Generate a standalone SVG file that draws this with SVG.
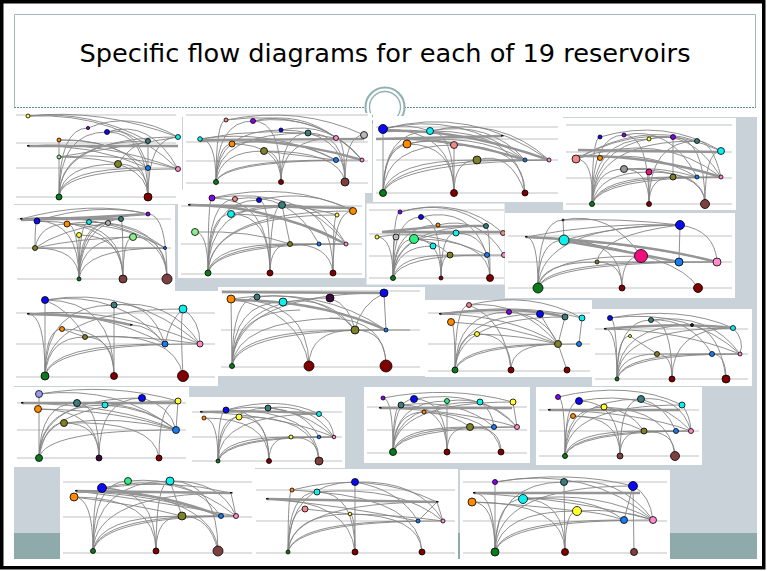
<svg xmlns="http://www.w3.org/2000/svg" width="767" height="571" viewBox="0 0 767 571">
<style>
.bx{fill:#fff}
.gd{stroke:#d6d6d6;stroke-width:1.5}
.e{fill:none;stroke:#838383;stroke-width:.9}
.t{fill:none;stroke:#959595;stroke-width:2.4}
.n circle{stroke:#000;stroke-width:.8}
.n rect{fill:#111}
.G{fill:#0b7a1b}.R{fill:#800000}.W{fill:#7d4040}.B{fill:#0a0aee}.C{fill:#11eeee}
.O{fill:#ff8a00}.T{fill:#3d7d7d}.L{fill:#80802a}.P{fill:#ff8ccc}.S{fill:#f08a8a}
.U{fill:#8a00ee}.Y{fill:#ffff30}.Q{fill:#8cef8c}.K{fill:#1a7cf0}.M{fill:#ee1080}
.A{fill:#b8b8b8}.H{fill:#999}.N{fill:#30ee80}.V{fill:#9a9aee}.D{fill:#3a0a3a}.X{fill:#222}
</style>

<!-- slide background -->
<rect x="0" y="0" width="767" height="571" fill="#fff"/>
<rect x="14" y="117" width="743" height="416" fill="#c8d2d8"/>
<rect x="14" y="533" width="743" height="26" fill="#8eaaaa"/>

<!-- title band -->
<path d="M14.5,107 V14.5 H755.5 V107" fill="none" stroke="#9fb8b8" stroke-width="1"/>
<path d="M14,107.5 H366 M404,107.5 H756" fill="none" stroke="#5f8c8c" stroke-width="1" stroke-dasharray="2 1"/>
<circle cx="385" cy="107" r="19.5" fill="#fff" stroke="#8fb0b0" stroke-width="2"/>
<circle cx="385" cy="107" r="15.5" fill="none" stroke="#8fb0b0" stroke-width="1.3"/>
<text x="385" y="62" text-anchor="middle" font-family="DejaVu Sans, sans-serif" font-size="25" textLength="611" lengthAdjust="spacingAndGlyphs" fill="#000">Specific flow diagrams for each of 19 reservoirs</text>

<!-- reservoir 1 -->
<g id="r01">
<rect class="bx" x="14" y="112" width="168" height="92"/>
<path class="gd" d="M16,115H176M16,143H176M16,168H176M16,197H176"/>
<g class="edges">
<path class="e" d="M59,197Q59,132 107,132M59,197Q59,141 148,141M59,197Q59,137 178,137M59,197Q62,164 118,164M59,197Q60,168 148,168M59,197Q60,169 178,169M59,197Q59,128 88,128M59,197L59,140M148,197Q148,132 107,132M148,197Q148,140 59,140M148,197Q148,157 59,157M148,197Q148,164 118,164M148,197Q148,137 178,137M148,197L148,141M28,116Q100,108 178,137M28,116Q90,110 148,141M28,116Q120,112 178,169M88,128Q130,110 178,137M107,132Q150,118 178,169M107,132Q135,125 148,168M28,146Q100,140 178,169M28,146Q90,143 148,168M59,157Q120,152 178,169M59,140Q110,138 148,168M118,164Q130,145 148,141M59,157Q100,150 178,137"/>
<path class="t" d="M28,146L178,146"/>
</g>
<g class="n">
<rect x="27" y="145" width="2.5" height="1.5"/>
<circle class="Y" cx="28" cy="116" r="2"/><circle class="U" cx="88" cy="128" r="1.6"/><circle class="B" cx="107" cy="132" r="2.5"/>
<circle class="O" cx="59" cy="140" r="2"/><circle class="T" cx="148" cy="141" r="2.5"/><circle class="C" cx="178" cy="137" r="2.5"/>
<circle class="Q" cx="59" cy="157" r="2"/><circle class="L" cx="118" cy="164" r="3.5"/><circle class="K" cx="148" cy="168" r="2.5"/>
<circle class="P" cx="178" cy="169" r="2.5"/><circle class="G" cx="59" cy="197" r="3"/><circle class="R" cx="148" cy="197" r="4"/>
</g>
</g>

<!-- reservoir 2 -->
<g id="r02">
<rect class="bx" x="183" y="113" width="189" height="80"/>
<path class="gd" d="M186,115H368M186,142H368M186,161H368M186,183H368"/>
<g class="edges">
<path class="e" d="M216,182Q216,120 226,120M216,182Q216,121 253,121M216,182Q216,130 281,130M216,182Q216,133 308,133M216,182Q218,144 232,144M216,182Q220,151 264,151M216,182Q222,160 336,160M216,182Q224,160 362,160M216,182Q216,139 200,139M281,182Q281,121 253,121M281,182Q281,133 308,133M281,182Q281,144 232,144M281,182Q281,151 264,151M281,182Q281,138 336,138M345,182Q345,133 308,133M345,182Q345,130 281,130M345,182Q345,135 364,135M345,182Q345,138 336,138M345,182Q340,151 264,151M226,120Q300,105 364,135M226,120Q320,108 362,160M200,139Q270,128 336,160M200,139Q270,125 336,138M253,121Q320,112 362,160M232,144Q290,135 336,160M264,151L336,160M253,121Q300,110 336,138M281,130Q330,120 362,160"/>
<path class="t" d="M200,140L364,139M200,141Q280,136 362,160"/>
</g>
<g class="n">
<circle class="S" cx="226" cy="120" r="2"/><circle class="U" cx="253" cy="121" r="2.5"/><circle class="B" cx="281" cy="130" r="2"/>
<circle class="T" cx="308" cy="133" r="3"/><circle class="P" cx="336" cy="138" r="2.5"/><circle class="A" cx="364" cy="135" r="3.5"/>
<circle class="C" cx="200" cy="139" r="2.3"/><circle class="O" cx="232" cy="144" r="3"/><circle class="L" cx="264" cy="151" r="3.5"/>
<circle class="K" cx="336" cy="160" r="2.5"/><circle class="P" cx="362" cy="160" r="2"/><circle class="G" cx="216" cy="182" r="2.5"/>
<circle class="R" cx="281" cy="182" r="2.5"/><circle class="W" cx="345" cy="182" r="4"/>
</g>
</g>

<!-- reservoir 3 -->
<g id="r03">
<rect class="bx" x="373" y="116" width="190" height="86"/>
<path class="gd" d="M376,127H558M376,139H558M376,160H558M376,193H558"/>
<g class="edges">
<path class="e" d="M383,193L383,129M383,193Q383,131 430,131M383,193Q385,144 407,144M383,193Q385,145 454,145M383,193Q390,160 477,160M383,193Q395,160 525,160M383,193Q395,163 549,160M454,193L454,145M454,193Q454,131 430,131M454,193Q454,144 407,144M454,193Q454,160 477,160M454,193Q454,129 383,129M525,193Q510,150 477,160M525,193Q525,145 454,145M383,129Q460,110 525,160M383,129Q470,105 549,160M430,131Q500,115 549,160M430,131Q490,120 525,160M407,144Q470,130 525,160M383,129Q405,122 430,131M407,144Q430,138 454,145M477,160L549,160M383,193Q383,150 407,144M525,193Q520,130 430,131"/>
<path class="t" d="M376,139Q450,136 525,160M376,139L502,136M383,131Q460,128 549,160"/>
</g>
<g class="n">
<rect x="501" y="135" width="2.5" height="1.5"/>
<circle class="B" cx="383" cy="129" r="4.5"/><circle class="C" cx="430" cy="131" r="3.5"/><circle class="O" cx="407" cy="144" r="4"/>
<circle class="S" cx="454" cy="145" r="3.5"/><circle class="L" cx="477" cy="160" r="4"/><circle class="K" cx="525" cy="160" r="2"/>
<circle class="P" cx="549" cy="160" r="2"/><circle class="G" cx="383" cy="193" r="3.5"/><circle class="R" cx="454" cy="193" r="3.5"/>
<circle class="R" cx="525" cy="193" r="3"/>
</g>
</g>

<!-- reservoir 4 -->
<g id="r04">
<rect class="bx" x="563" y="118" width="173" height="92"/>
<path class="gd" d="M566,125H732M566,152H732M566,178H732M566,204H732"/>
<g class="edges">
<path class="e" d="M592,204Q592,137 600,137M592,204Q592,135 624,135M592,204Q592,139 649,139M592,204Q594,137 673,137M592,204Q594,141 697,141M592,204Q594,159 576,159M592,204Q595,169 624,169M592,204Q598,172 649,172M592,204Q600,177 673,177M592,204Q600,177 697,177M592,204Q600,178 721,177M649,204L649,172M649,204Q649,135 624,135M649,204Q649,141 697,141M649,204Q649,169 624,169M649,204Q649,177 673,177M705,204Q705,151 721,151M705,204Q705,137 673,137M705,204Q705,172 649,172M705,204Q705,169 624,169M576,159Q650,118 721,151M576,159Q640,122 697,141M576,159Q660,130 721,177M600,137Q665,118 721,151M624,135Q670,125 697,177M649,139Q690,128 721,177M697,141Q712,140 721,177M673,137L673,177M624,169Q660,166 697,177M673,177L721,177M600,158Q650,150 697,177"/>
<path class="t" d="M578,150L720,152M578,156Q650,155 721,177"/>
</g>
<g class="n">
<circle class="B" cx="600" cy="137" r="2"/><circle class="U" cx="624" cy="135" r="2"/><circle class="Y" cx="649" cy="139" r="2"/>
<circle class="U" cx="673" cy="137" r="2.5"/><circle class="T" cx="697" cy="141" r="2.5"/><circle class="C" cx="721" cy="151" r="3.5"/>
<circle class="S" cx="576" cy="159" r="4"/><circle class="O" cx="600" cy="158" r="2.5"/><circle class="H" cx="624" cy="169" r="3.5"/>
<circle class="M" cx="649" cy="172" r="3"/><circle class="L" cx="673" cy="177" r="3"/><circle class="K" cx="697" cy="177" r="2"/>
<circle class="P" cx="721" cy="177" r="2"/><circle class="G" cx="592" cy="204" r="2.5"/><circle class="R" cx="649" cy="204" r="2.5"/>
<circle class="W" cx="705" cy="204" r="4.5"/>
</g>
</g>

<!-- reservoir 5 -->
<g id="r05">
<rect class="bx" x="14" y="205" width="161" height="86"/>
<path class="gd" d="M17,219H171M17,248H171M17,279H171"/>
<g class="edges">
<path class="e" d="M79,279Q79,221 37,221M79,279Q79,224 67,224M79,279Q79,222 89,222M79,279Q79,223 108,223M79,279Q80,219 121,219M79,279Q80,214 148,214M79,279L79,235M79,279Q80,237 133,237M79,279Q79,248 35,248M79,279Q82,248 165,248M123,279Q123,221 37,221M123,279Q123,224 67,224M123,279Q123,219 121,219M123,279Q123,237 133,237M123,279Q123,235 79,235M167,279Q167,214 148,214M167,279Q167,222 89,222M167,279Q167,237 133,237M167,279Q167,224 67,224M35,248Q35,221 37,221M35,248Q40,224 67,224M35,248Q60,230 108,223M35,248L165,248M21,219Q90,200 148,214M37,221Q95,202 148,214M21,219Q100,210 165,248M35,248Q80,238 133,237M67,224Q120,215 165,248"/>
<path class="t" d="M21,219L121,219M21,220Q90,218 148,214"/>
</g>
<g class="n">
<rect x="20" y="218" width="2.5" height="1.5"/>
<circle class="B" cx="37" cy="221" r="3"/><circle class="O" cx="67" cy="224" r="3"/><circle class="C" cx="89" cy="222" r="2.5"/>
<circle class="A" cx="108" cy="223" r="2.5"/><circle class="T" cx="121" cy="219" r="2.5"/><circle class="U" cx="148" cy="214" r="2"/>
<circle class="Y" cx="79" cy="235" r="2.5"/><circle class="Q" cx="133" cy="237" r="3.5"/><circle class="L" cx="35" cy="248" r="2.5"/>
<circle class="K" cx="165" cy="248" r="1.5"/><circle class="G" cx="79" cy="279" r="2"/><circle class="W" cx="123" cy="279" r="4"/>
<circle class="W" cx="167" cy="279" r="5"/>
</g>
</g>

<!-- reservoir 6 -->
<g id="r06">
<rect class="bx" x="178" y="190" width="187" height="88"/>
<path class="gd" d="M181,206H362M181,244H362M181,274H362"/>
<g class="edges">
<path class="e" d="M208,273Q208,198 212,198M208,273Q208,199 235,199M208,273Q208,200 259,200M208,273Q208,205 282,205M208,273Q208,214 231,214M208,273Q208,232 195,232M208,273Q212,244 290,244M208,273Q214,244 319,244M208,273Q215,244 346,244M208,273Q210,215 337,215M208,273Q210,211 353,211M270,273Q270,205 282,205M270,273Q270,200 259,200M270,273Q270,214 231,214M270,273Q270,244 290,244M270,273Q270,198 212,198M333,273Q333,211 353,211M333,273Q333,215 337,215M333,273Q333,205 282,205M333,273Q330,244 290,244M212,198Q290,180 353,211M212,198Q300,185 346,244M235,199Q290,190 319,244M259,200Q310,188 353,211M282,205Q320,200 346,244M231,214Q290,200 337,215M195,232Q250,230 290,244M290,244L346,244M282,205L290,244M231,214Q300,215 346,244"/>
<path class="t" d="M189,205L353,208M189,205Q270,205 346,244"/>
</g>
<g class="n">
<rect x="188" y="204" width="2.5" height="1.5"/>
<circle class="U" cx="212" cy="198" r="3"/><circle class="S" cx="235" cy="199" r="2.5"/><circle class="B" cx="259" cy="200" r="2.5"/>
<circle class="T" cx="282" cy="205" r="3.5"/><circle class="C" cx="231" cy="214" r="3.5"/><circle class="Y" cx="337" cy="215" r="2"/>
<circle class="O" cx="353" cy="211" r="3.5"/><circle class="Q" cx="195" cy="232" r="3.5"/><circle class="L" cx="290" cy="244" r="2.5"/>
<circle class="K" cx="319" cy="244" r="2"/><circle class="P" cx="346" cy="244" r="2"/><circle class="G" cx="208" cy="273" r="3"/>
<circle class="R" cx="270" cy="273" r="3"/><circle class="R" cx="333" cy="273" r="3"/>
</g>
</g>

<!-- reservoir 7 -->
<g id="r07">
<rect class="bx" x="366" y="203" width="139" height="82" stroke="#c9d2da" stroke-width="1"/>
<path class="gd" d="M369,210H504M369,234H504M369,256H504M369,278H504"/>
<g class="edges">
<path class="e" d="M393,278Q393,212 400,212M393,278Q393,217 421,217M393,278Q393,225 438,225M393,278Q393,226 486,226M393,278Q393,237 377,237M393,278Q393,237 396,237M393,278Q395,239 414,239M393,278Q395,233 456,233M393,278Q396,246 433,246M393,278Q398,255 450,255M393,278Q400,255 487,255M441,278Q441,233 456,233M441,278Q441,239 414,239M441,278Q441,255 450,255M441,278Q441,217 421,217M490,278Q490,226 486,226M490,278Q490,239 414,239M490,278Q490,233 456,233M400,212Q450,198 486,226M400,212Q460,195 503,233M421,217Q470,205 487,255M438,225Q480,215 504,255M414,239Q435,240 450,255M450,255L504,255M377,237Q430,228 487,255"/>
<path class="t" d="M382,232Q440,225 486,226M382,232L500,232"/>
</g>
<g class="n">
<circle class="U" cx="400" cy="212" r="2"/><circle class="B" cx="421" cy="217" r="2.5"/><circle class="O" cx="438" cy="225" r="2"/>
<circle class="T" cx="486" cy="226" r="2.5"/><circle class="S" cx="503" cy="233" r="2.5"/><circle class="Y" cx="377" cy="237" r="2"/>
<circle class="A" cx="396" cy="237" r="3"/><circle class="N" cx="414" cy="239" r="4.5"/><circle class="C" cx="456" cy="233" r="3"/>
<circle class="C" cx="433" cy="246" r="3"/><circle class="L" cx="450" cy="255" r="3"/><circle class="K" cx="487" cy="255" r="2.5"/>
<circle class="P" cx="504" cy="255" r="2.5"/><circle class="G" cx="393" cy="278" r="2.5"/><circle class="R" cx="441" cy="278" r="2"/>
<circle class="R" cx="490" cy="278" r="3.5"/>
</g>
</g>

<!-- reservoir 8 -->
<g id="r08">
<rect class="bx" x="505" y="213" width="230" height="85"/>
<path class="gd" d="M508,236H732M508,262H732M508,288H732"/>
<g class="edges">
<path class="e" d="M538,288Q538,240 564,240M538,288Q540,225 680,225M538,288Q540,262 597,262M538,288Q542,256 641,256M538,288Q545,262 679,262M538,288Q548,262 717,262M538,288Q538,237 526,237M538,288Q538,220 563,220M622,288Q622,262 597,262M622,288Q622,256 641,256M622,288Q622,240 564,240M698,288Q680,255 564,240M526,237Q600,222 680,225M564,240Q620,225 680,225M563,220Q610,210 641,256M563,220Q620,218 680,225M680,225Q715,230 717,262M680,225L679,262M564,240Q650,245 717,262M597,262Q600,235 680,225M597,262L717,262M563,220L564,240"/>
<path class="t" d="M564,241Q620,250 679,262M526,237Q640,242 717,262"/>
</g>
<g class="n">
<rect x="525" y="236" width="2.5" height="1.5"/>
<circle class="T" cx="563" cy="220" r="1"/>
<circle class="B" cx="680" cy="225" r="4.5"/><circle class="C" cx="564" cy="240" r="5"/><circle class="L" cx="597" cy="262" r="2"/>
<circle class="M" cx="641" cy="256" r="6.5"/><circle class="K" cx="679" cy="262" r="4"/><circle class="P" cx="717" cy="262" r="4"/>
<circle class="G" cx="538" cy="288" r="5"/><circle class="R" cx="622" cy="288" r="3"/><circle class="R" cx="698" cy="288" r="4.5"/>
</g>
</g>

<!-- reservoir 9 -->
<g id="r09">
<rect class="bx" x="14" y="291" width="204" height="95"/>
<path class="gd" d="M16,313H215M16,344H215M16,377H215"/>
<g class="edges">
<path class="e" d="M45,376L45,300M45,376Q45,305 114,305M45,376Q45,309 183,309M45,376Q45,329 62,329M45,376Q48,337 85,337M45,376Q50,344 165,344M45,376Q52,344 200,344M45,376Q45,314 28,314M114,376L114,305M114,376Q114,337 85,337M114,376Q114,300 45,300M114,376Q114,329 62,329M183,376Q175,330 85,337M183,376Q180,320 183,309M45,300Q120,290 165,344M45,300Q130,285 200,344M114,305Q170,298 200,344M114,305Q150,300 165,344M183,309Q170,320 165,344M183,309Q200,320 200,344M28,314Q100,310 165,344M28,314Q110,305 200,344M131,325Q150,325 165,344M62,329L85,337M85,337Q140,335 200,344M45,300Q70,310 85,337"/>
<path class="t" d="M28,314Q90,315 131,325"/>
</g>
<g class="n">
<rect x="27" y="313" width="2.5" height="1.5"/><rect x="130" y="324" width="2.5" height="1.5"/>
<circle class="B" cx="45" cy="300" r="3.5"/><circle class="T" cx="114" cy="305" r="3"/><circle class="C" cx="183" cy="309" r="4"/>
<circle class="O" cx="62" cy="329" r="2.5"/><circle class="L" cx="85" cy="337" r="2.5"/><circle class="K" cx="165" cy="344" r="3"/>
<circle class="P" cx="200" cy="344" r="3"/><circle class="G" cx="45" cy="376" r="4"/><circle class="R" cx="114" cy="376" r="3.5"/>
<circle class="R" cx="183" cy="376" r="5.5"/>
</g>
</g>

<!-- reservoir 10 -->
<g id="r10">
<rect class="bx" x="218" y="287" width="207" height="89"/>
<path class="gd" d="M221,291H420M221,330H420M221,367H420"/>
<g class="edges">
<path class="e" d="M232,366L231,299M232,366Q232,297 257,297M232,366Q232,302 283,302M232,366Q233,298 330,298M232,366Q234,293 384,293M232,366Q236,330 355,330M232,366Q238,330 386,330M232,366Q233,310 300,310M232,366Q236,320 340,318M309,366Q309,299 231,299M309,366Q309,330 355,330M386,366Q386,330 355,330M386,366Q386,320 330,318M231,299Q320,285 386,330M257,297Q320,290 355,330M283,302Q330,295 355,330M384,293Q360,305 355,330M384,293L386,330M330,298Q350,305 355,330M231,299Q300,310 309,366M355,330L410,330"/>
<path class="t" d="M222,292L384,293M232,300Q320,300 386,330"/>
</g>
<g class="n">
<circle class="O" cx="231" cy="299" r="4"/><circle class="T" cx="257" cy="297" r="3"/><circle class="C" cx="283" cy="302" r="4"/>
<circle class="D" cx="330" cy="298" r="4"/><circle class="B" cx="384" cy="293" r="4"/><circle class="L" cx="355" cy="330" r="4"/>
<circle class="K" cx="386" cy="330" r="2"/><circle class="G" cx="232" cy="366" r="2.5"/><circle class="R" cx="309" cy="366" r="5"/>
<circle class="R" cx="386" cy="366" r="6"/>
</g>
</g>

<!-- reservoir 11 -->
<g id="r11">
<rect class="bx" x="425" y="300" width="167" height="77"/>
<path class="gd" d="M428,313H590M428,344H590M428,371H590"/>
<g class="edges">
<path class="e" d="M455,370Q455,322 451,322M455,370Q455,305 469,305M455,370Q456,312 509,312M455,370Q457,314 540,314M455,370Q458,317 565,317M455,370Q458,334 477,334M455,370Q462,344 558,344M455,370Q465,344 579,344M511,370Q511,344 558,344M511,370Q511,334 477,334M567,370L558,344M469,305Q520,300 558,344M469,305Q530,290 582,318M440,314Q520,302 582,318M440,314Q510,315 558,344M509,312Q545,315 558,344M540,314L558,344M565,317L558,344M582,318L579,344M451,322Q510,325 558,344M477,334Q520,335 558,344M511,370Q505,320 469,305"/>
<path class="t" d="M440,314Q520,305 565,317"/>
</g>
<g class="n">
<rect x="439" y="313" width="2.5" height="1.5"/>
<circle class="S" cx="469" cy="305" r="2.5"/><circle class="U" cx="509" cy="312" r="2.5"/><circle class="B" cx="540" cy="314" r="3.5"/>
<circle class="T" cx="565" cy="317" r="3"/><circle class="C" cx="582" cy="318" r="3"/><circle class="O" cx="451" cy="322" r="3.5"/>
<circle class="Y" cx="477" cy="334" r="2.5"/><circle class="L" cx="558" cy="344" r="3.5"/><circle class="K" cx="579" cy="344" r="2.5"/>
<circle class="G" cx="455" cy="370" r="3"/><circle class="R" cx="511" cy="370" r="3"/><circle class="R" cx="567" cy="370" r="3"/>
</g>
</g>

<!-- reservoir 12 -->
<g id="r12">
<rect class="bx" x="592" y="309" width="160" height="77"/>
<path class="gd" d="M595,329H748M595,354H748M595,379H748"/>
<g class="edges">
<path class="e" d="M617,379Q617,318 610,318M617,379Q617,320 651,320M617,379Q618,325 692,325M617,379Q618,328 733,328M617,379Q617,336 630,336M617,379Q620,354 657,354M617,379Q622,354 712,354M617,379Q622,354 740,354M617,379Q617,329 605,329M672,379Q672,354 657,354M672,379Q672,320 651,320M672,379Q672,328 733,328M726,379Q726,354 712,354M726,379Q720,330 692,325M610,318Q680,305 733,328M610,318Q690,308 740,354M651,320Q710,312 740,354M651,320Q690,318 712,354M605,329Q680,330 740,354M630,336L657,354M657,354L740,354M733,328Q745,340 740,354"/>
<path class="t" d="M605,329Q680,322 733,328"/>
</g>
<g class="n">
<rect x="604" y="328" width="2.5" height="1.5"/>
<circle class="B" cx="610" cy="318" r="2.5"/><circle class="T" cx="651" cy="320" r="2.5"/><circle class="X" cx="692" cy="325" r="1.5"/>
<circle class="C" cx="733" cy="328" r="2.5"/><circle class="Y" cx="630" cy="336" r="1.5"/><circle class="L" cx="657" cy="354" r="2.5"/>
<circle class="K" cx="712" cy="354" r="2.5"/><circle class="P" cx="740" cy="354" r="2"/><circle class="G" cx="617" cy="379" r="2"/>
<circle class="R" cx="672" cy="379" r="3"/><circle class="R" cx="726" cy="379" r="4"/>
</g>
</g>

<!-- reservoir 13 -->
<g id="r13">
<rect class="bx" x="14" y="387" width="175" height="80"/>
<path class="gd" d="M17,403H186M17,430H186M17,458H186"/>
<g class="edges">
<path class="e" d="M39,458L39,394M39,458Q40,398 142,398M39,458Q40,401 178,401M39,458Q40,403 77,403M39,458Q40,405 105,405M39,458Q45,423 64,423M39,458Q45,430 176,430M99,458Q99,403 77,403M99,458Q99,398 142,398M99,458Q99,423 64,423M99,458Q99,409 38,409M159,458Q159,401 178,401M159,458Q155,420 64,423M39,394Q110,382 178,401M39,394Q120,385 176,430M142,398Q170,405 176,430M178,401L176,430M77,403Q140,400 176,430M105,405Q150,408 176,430M22,403Q120,405 176,430M38,409Q120,410 176,430M64,423Q120,415 176,430"/>
<path class="t" d="M22,403L178,403"/>
</g>
<g class="n">
<rect x="21" y="402" width="2.5" height="1.5"/>
<circle class="V" cx="39" cy="394" r="3.5"/><circle class="B" cx="142" cy="398" r="3.5"/><circle class="Y" cx="178" cy="401" r="3"/>
<circle class="T" cx="77" cy="403" r="3.5"/><circle class="C" cx="105" cy="405" r="3"/><circle class="O" cx="38" cy="409" r="3.5"/>
<circle class="L" cx="64" cy="423" r="3.5"/><circle class="K" cx="176" cy="430" r="3.5"/><circle class="G" cx="39" cy="458" r="3.5"/>
<circle class="D" cx="99" cy="458" r="3"/><circle class="R" cx="159" cy="458" r="3"/>
</g>
</g>

<!-- reservoir 14 -->
<g id="r14">
<rect class="bx" x="189" y="397" width="156" height="71"/>
<path class="gd" d="M192,412H342M192,437H342M192,461H342"/>
<g class="edges">
<path class="e" d="M218,461Q218,410 226,410M218,461Q218,408 268,408M218,461Q218,414 319,414M218,461Q218,417 239,417M218,461Q218,418 204,418M218,461Q222,437 291,437M218,461Q224,437 319,437M218,461Q226,437 334,437M269,461Q269,410 226,410M269,461Q269,417 239,417M269,461Q269,437 291,437M269,461Q269,418 204,418M319,461Q319,437 291,437M319,461Q315,415 239,417M319,461Q319,410 226,410M226,410Q280,395 319,414M226,410Q290,398 334,437M268,408Q310,402 334,437M268,408Q305,410 319,437M201,412Q280,415 334,437M319,414Q332,420 334,437M291,437L334,437"/>
<path class="t" d="M201,412Q270,410 319,414"/>
</g>
<g class="n">
<rect x="200" y="411" width="2.5" height="1.5"/>
<circle class="B" cx="226" cy="410" r="3"/><circle class="T" cx="268" cy="408" r="3"/><circle class="C" cx="319" cy="414" r="2.5"/>
<circle class="Y" cx="239" cy="417" r="3"/><circle class="O" cx="204" cy="418" r="2"/><circle class="Y" cx="291" cy="437" r="2"/>
<circle class="K" cx="319" cy="437" r="1.8"/><circle class="P" cx="334" cy="437" r="1.8"/><circle class="G" cx="218" cy="461" r="2"/>
<circle class="R" cx="269" cy="461" r="2.5"/><circle class="W" cx="319" cy="461" r="4"/>
</g>
</g>

<!-- reservoir 15 -->
<g id="r15">
<rect class="bx" x="364" y="387" width="166" height="76"/>
<path class="gd" d="M367,407H527M367,430H527M367,453H527"/>
<g class="edges">
<path class="e" d="M393,452Q393,398 383,398M393,452Q393,399 414,399M393,452Q393,401 447,401M393,452Q394,402 480,402M393,452Q394,402 513,402M393,452Q393,405 401,405M393,452Q394,412 424,412M393,452Q398,427 470,427M393,452Q400,427 494,427M393,452Q400,428 517,427M447,452L447,401M447,452Q447,405 401,405M447,452Q447,427 470,427M447,452Q447,399 414,399M501,452Q501,427 470,427M501,452Q495,415 424,412M383,398Q450,385 513,402M414,399Q480,388 517,427M401,405Q460,398 494,427M447,401Q490,395 517,427M480,402Q492,410 494,427M513,402L517,427M380,408Q460,410 517,427M424,412Q455,415 470,427M470,427L517,427"/>
<path class="t" d="M380,408L512,408"/>
</g>
<g class="n">
<rect x="379" y="407" width="2.5" height="1.5"/>
<circle class="U" cx="383" cy="398" r="2"/><circle class="B" cx="414" cy="399" r="3.5"/><circle class="N" cx="447" cy="401" r="2.5"/>
<circle class="C" cx="480" cy="402" r="3"/><circle class="Y" cx="513" cy="402" r="3"/><circle class="T" cx="401" cy="405" r="3"/>
<circle class="O" cx="424" cy="412" r="2"/><circle class="L" cx="470" cy="427" r="3.5"/><circle class="K" cx="494" cy="427" r="2.5"/>
<circle class="P" cx="517" cy="427" r="2.5"/><circle class="G" cx="393" cy="452" r="3.5"/><circle class="R" cx="447" cy="452" r="3"/>
<circle class="R" cx="501" cy="452" r="3"/>
</g>
</g>

<!-- reservoir 16 -->
<g id="r16">
<rect class="bx" x="536" y="387" width="166" height="78"/>
<path class="gd" d="M539,410H699M539,431H699M539,456H699"/>
<g class="edges">
<path class="e" d="M565,456Q565,397 558,397M565,456Q565,401 579,401M565,456Q565,407 604,407M565,456Q566,399 641,399M565,456Q566,405 682,405M565,456Q565,416 573,416M565,456Q570,431 644,431M565,456Q572,431 676,431M565,456Q572,432 691,431M620,456Q620,401 579,401M620,456Q620,399 641,399M620,456Q620,431 644,431M620,456Q620,416 573,416M675,456Q675,431 644,431M675,456Q670,410 604,407M558,397Q630,380 682,405M579,401Q650,388 691,431M641,399Q680,395 691,431M641,399Q665,405 676,431M549,410Q640,412 691,431M604,407Q630,410 644,431M573,416Q620,418 644,431M682,405Q690,415 691,431M644,431L691,431"/>
<path class="t" d="M549,410L680,410"/>
</g>
<g class="n">
<rect x="548" y="409" width="2.5" height="1.5"/>
<circle class="U" cx="558" cy="397" r="2.5"/><circle class="B" cx="579" cy="401" r="3.5"/><circle class="Y" cx="604" cy="407" r="3"/>
<circle class="T" cx="641" cy="399" r="3.5"/><circle class="C" cx="682" cy="405" r="3"/><circle class="O" cx="573" cy="416" r="2.5"/>
<circle class="L" cx="644" cy="431" r="3"/><circle class="K" cx="676" cy="431" r="2.5"/><circle class="P" cx="691" cy="431" r="2.5"/>
<circle class="G" cx="565" cy="456" r="2.5"/><circle class="W" cx="620" cy="456" r="3"/><circle class="W" cx="675" cy="456" r="4.5"/>
</g>
</g>

<!-- reservoir 17 -->
<g id="r17">
<rect class="bx" x="60" y="467" width="195" height="92"/>
<path class="gd" d="M63,482H252M63,517H252M63,553H252"/>
<g class="edges">
<path class="e" d="M93,551Q93,488 102,488M93,551Q93,481 128,481M93,551Q94,481 170,481M93,551Q93,497 74,497M93,551Q98,516 182,516M93,551Q100,516 221,516M93,551Q102,517 236,516M93,551Q95,493 231,493M156,551Q156,488 102,488M156,551Q156,481 170,481M156,551Q156,497 74,497M156,551Q156,516 182,516M218,551Q215,500 102,488M218,551Q218,481 170,481M218,551Q210,516 182,516M102,488Q180,470 236,516M102,488Q170,478 231,493M128,481Q190,475 221,516M170,481L182,516M170,481Q220,480 236,516M76,491Q160,495 221,516M76,491Q150,500 236,516M74,497Q140,505 182,516M182,516L236,516M231,493L236,516"/>
<path class="t" d="M76,491L230,493M76,492Q150,488 221,516"/>
</g>
<g class="n">
<rect x="75" y="490" width="2.5" height="1.5"/><rect x="230" y="492" width="2.5" height="1.5"/>
<circle class="B" cx="102" cy="488" r="4.5"/><circle class="N" cx="128" cy="481" r="3.5"/><circle class="C" cx="170" cy="481" r="4"/>
<circle class="O" cx="74" cy="497" r="4"/><circle class="L" cx="182" cy="516" r="4"/><circle class="K" cx="221" cy="516" r="2.5"/>
<circle class="P" cx="236" cy="516" r="2.5"/><circle class="G" cx="93" cy="551" r="2.5"/><circle class="R" cx="156" cy="551" r="3"/>
<circle class="W" cx="218" cy="551" r="5"/>
</g>
</g>

<!-- reservoir 18 -->
<g id="r18">
<rect class="bx" x="253" y="469" width="205" height="90"/>
<path class="gd" d="M256,490H455M256,521H455M256,553H455"/>
<g class="edges">
<path class="e" d="M288,552Q288,490 292,490M288,552Q288,492 317,492M288,552Q289,482 355,482M288,552Q290,509 305,509M288,552Q292,514 350,514M288,552Q295,521 418,521M288,552Q296,521 443,521M288,552Q290,502 437,502M355,552L355,482M355,552Q355,514 350,514M355,552Q355,492 317,492M355,552Q350,500 267,499M422,552Q420,515 350,514M422,552Q420,500 317,492M292,490Q370,470 437,502M355,482Q420,480 443,521M355,482Q400,490 418,521M317,492Q400,485 443,521M267,499Q340,505 418,521M437,502L443,521M437,502L418,521M305,509L350,514M350,514Q400,515 443,521M292,490L317,492"/>
<path class="t" d="M267,499L437,502"/>
</g>
<g class="n">
<rect x="266" y="498" width="2.5" height="1.5"/><rect x="436" y="501" width="2.5" height="1.5"/>
<circle class="O" cx="292" cy="490" r="2"/><circle class="C" cx="317" cy="492" r="3"/><circle class="B" cx="355" cy="482" r="3.5"/>
<circle class="S" cx="305" cy="509" r="3"/><circle class="Y" cx="350" cy="514" r="1.8"/><circle class="K" cx="418" cy="521" r="2"/>
<circle class="P" cx="443" cy="521" r="2"/><circle class="G" cx="288" cy="552" r="2"/><circle class="R" cx="355" cy="552" r="3"/>
<circle class="R" cx="422" cy="552" r="3"/>
</g>
</g>

<!-- reservoir 19 -->
<g id="r19">
<rect class="bx" x="460" y="470" width="210" height="89"/>
<path class="gd" d="M463,482H667M463,521H667M463,553H667"/>
<g class="edges">
<path class="e" d="M495,552L495,482M495,552Q495,482 564,482M495,552Q496,486 633,486M495,552Q495,502 472,502M495,552Q496,499 523,499M495,552Q500,511 577,511M495,552Q502,520 624,520M495,552Q504,520 653,520M495,552Q495,493 474,493M565,552L564,482M565,552Q565,499 523,499M565,552Q565,511 577,511M565,552Q565,502 472,502M634,552L633,486M495,482Q570,470 633,486M495,482Q590,465 653,520M564,482Q620,475 653,520M633,486Q650,495 653,520M633,486L624,520M523,499Q590,495 624,520M474,493Q580,500 653,520M472,502Q530,505 577,511M577,511Q600,512 624,520M577,511Q620,508 653,520M523,499Q600,490 653,520"/>
<path class="t" d="M474,493L640,493"/>
</g>
<g class="n">
<rect x="473" y="492" width="2.5" height="1.5"/>
<circle class="U" cx="495" cy="482" r="2.5"/><circle class="T" cx="564" cy="482" r="3.5"/><circle class="B" cx="633" cy="486" r="4.5"/>
<circle class="O" cx="472" cy="502" r="4"/><circle class="C" cx="523" cy="499" r="4.5"/><circle class="Y" cx="577" cy="511" r="4.5"/>
<circle class="K" cx="624" cy="520" r="3.5"/><circle class="P" cx="653" cy="520" r="3.5"/><circle class="G" cx="495" cy="552" r="4"/>
<circle class="R" cx="565" cy="552" r="3.5"/><circle class="W" cx="634" cy="552" r="3.5"/>
</g>
</g>

<!-- slide frame -->
<rect x="1.75" y="1.75" width="762" height="566" fill="none" stroke="#000" stroke-width="3.5"/>
</svg>
